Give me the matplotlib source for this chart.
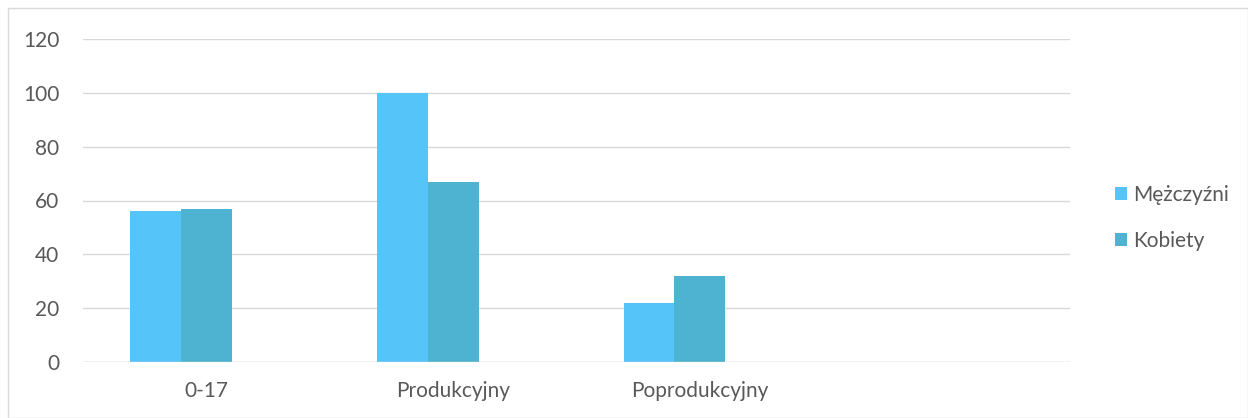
import matplotlib
matplotlib.use("Agg")
import matplotlib.pyplot as plt
from matplotlib.patches import Rectangle
import numpy as np

categories = ["0-17", "Produkcyjny", "Poprodukcyjny", ""]
men = [56, 100, 22, 0]
women = [57, 67, 32, 0]
series_names = ["Mężczyźni", "Kobiety"]

plt.rcParams['font.family'] = ['Lato', 'DejaVu Sans']
W, H = 1248, 418
fig = plt.figure(figsize=(W/100, H/100), dpi=100)
fig.patches.append(Rectangle((8/W, 0), 1 - 8/W, 1 - 8/H, transform=fig.transFigure,
                             fill=False, edgecolor="#d9d9d9", linewidth=1))
ax = fig.add_axes([83/W, 56/H, (1070-83)/W, (362-39)/H])

x = np.arange(len(categories))
bw = 0.206
c_men = "#55C5F9"
c_women = "#4EB3D0"
# third (empty) slot in each group, as in the original layout
b1 = ax.bar(x - bw, men, bw, color=c_men, label=series_names[0], zorder=3)
b2 = ax.bar(x, women, bw, color=c_women, label=series_names[1], zorder=3)

ax.set_xlim(-0.5, len(categories) - 0.5)
ax.set_ylim(0, 120)
ax.set_yticks(range(0, 121, 20))
ax.grid(axis='y', color="#d9d9d9", linewidth=1, zorder=0)
for s in ax.spines.values():
    s.set_visible(False)
ax.axhline(0, color="#d9d9d9", linewidth=1, zorder=4)
ax.set_xticks(x)
ax.set_xticklabels(categories)
ax.tick_params(axis='both', length=0, labelsize=15, labelcolor="#595959")
ax.tick_params(axis='y', pad=17)
ax.tick_params(axis='x', pad=14)

leg = fig.legend(handles=[b1, b2], labels=series_names, loc='center left',
                 bbox_to_anchor=(1096/W, 1 - 218/H), frameon=False,
                 fontsize=15, handlelength=0.6, handleheight=0.6,
                 handletextpad=0.3, labelspacing=1.25, labelcolor="#595959")

fig.savefig("out.png", dpi=100)
